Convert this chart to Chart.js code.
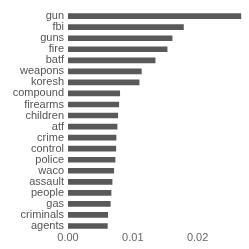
<!DOCTYPE html>
<html>
<head>
<meta charset="utf-8">
<script src="https://cdn.jsdelivr.net/npm/chart.js@4/dist/chart.umd.min.js"></script>
<style>
  html, body { margin: 0; padding: 0; background: #fff; }
  #wrap { width: 249px; height: 249px; }
</style>
</head>
<body>
<div id="wrap"><canvas id="chart" width="249" height="249"></canvas></div>
<script>
var words = ["gun", "fbi", "guns", "fire", "batf", "weapons", "koresh", "compound", "firearms", "children",
    "atf", "crime", "control", "police", "waco", "assault", "people", "gas", "criminals", "agents"];
var tfidf = [0.02667, 0.01781, 0.01606, 0.01529, 0.01344, 0.01132, 0.01097, 0.00798, 0.00783, 0.00768,
    0.00757, 0.00741, 0.00738, 0.00726, 0.00706, 0.0068, 0.00664, 0.00653, 0.00613, 0.00607];
var xTicks = [0, 0.01, 0.02];

var ctx = document.getElementById("chart").getContext("2d");
var chart = new Chart(ctx, {
    type: "bar",
    data: {
        labels: words,
        datasets: [{
            data: tfidf,
            backgroundColor: "#595959",
            barThickness: 5
        }]
    },
    options: {
        indexAxis: "y",
        responsive: false,
        animation: false,
        layout: { padding: { top: 1, right: 6, left: 0, bottom: 0 } },
        plugins: { legend: { display: false }, tooltip: { enabled: false } },
        scales: {
            x: {
                min: 0,
                max: 0.027,
                border: { display: false },
                grid: { display: false, drawTicks: false },
                ticks: {
                    padding: 0,
                    color: "#666666",
                    font: { family: "Liberation Sans", size: 11 },
                    callback: function(v) { return v.toFixed(2); }
                },
                afterBuildTicks: function(scale) {
                    scale.ticks = xTicks.map(function(v) { return { value: v }; });
                },
                afterFit: function(scale) { scale.height = 17.5; }
            },
            y: {
                border: { display: false },
                grid: { display: false, drawTicks: false },
                ticks: {
                    autoSkip: false,
                    padding: 4,
                    color: "#555555",
                    font: { family: "Liberation Sans", size: 11 }
                },
                afterFit: function(scale) { scale.width = 68; }
            }
        }
    }
});
</script>
</body>
</html>
